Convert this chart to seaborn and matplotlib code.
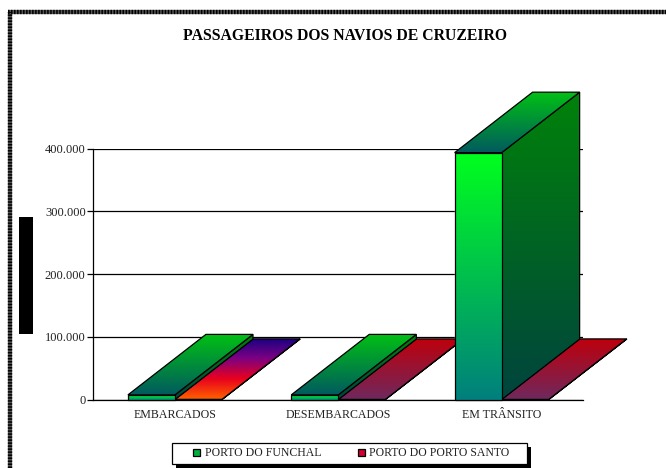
import numpy as np
import pandas as pd
import matplotlib
matplotlib.use("Agg")
import matplotlib.pyplot as plt
from matplotlib.patches import Polygon, Rectangle, Patch
from matplotlib.ticker import FuncFormatter
import seaborn as sns

categories = ["EMBARCADOS", "DESEMBARCADOS", "EM TRÂNSITO"]
funchal = [7500, 7500, 393500]
porto_santo = [400, 300, 300]
series_names = ["PORTO DO FUNCHAL", "PORTO DO PORTO SANTO"]
y_ticks = [0, 100000, 200000, 300000, 400000]

W, H = 666, 468
DEPTH_X, DEPTH_Y = 78, 60.5

# gradient stops, top to bottom
green_front = [(0, 255, 30), (0, 128, 125)]
green_side = [(0, 130, 10), (0, 68, 62)]
green_top = [(0, 192, 20), (0, 90, 95)]
red_top = [(190, 0, 12), (112, 40, 92)]
rainbow_top = [(25, 0, 130), (125, 0, 130), (232, 0, 30), (255, 95, 0)]

df = pd.DataFrame({
    "categoria": categories * 2,
    "porto": [series_names[0]] * 3 + [series_names[1]] * 3,
    "valor": funchal + porto_santo,
})

sns.set_style("white")
plt.rcParams["font.family"] = ["Liberation Serif", "DejaVu Serif"]

fig = plt.figure(figsize=(W / 100, H / 100), dpi=100, facecolor="white")
ax = fig.add_axes([93.3 / W, (H - 399.6) / H, 490 / W, 251 / H])

sns.barplot(
    data=df, x="categoria", y="valor", hue="porto",
    palette=["#00a040", "#c00020"], width=0.576, gap=0,
    legend=False, ax=ax
)

ax.set_ylim(0, 400000)
ax.set_yticks(y_ticks)
ax.yaxis.set_major_formatter(
    FuncFormatter(lambda v, _: f"{int(v):,}".replace(",", "."))
)
ax.set_xlabel("")
ax.set_ylabel("")
ax.grid(axis="y", color="black", lw=0.9)
ax.set_axisbelow(True)
ax.tick_params(axis="y", length=4, width=0.9, color="black", pad=1.5,
               labelsize=9, labelcolor="#222222", left=True)
ax.tick_params(axis="x", length=0, pad=7, labelsize=8.6, labelcolor="#222222")
for side in ["top", "right"]:
    ax.spines[side].set_visible(False)
for side in ["left", "bottom"]:
    ax.spines[side].set_color("black")
    ax.spines[side].set_linewidth(0.9)

# overlay in pixel coordinates for the fake 3D faces
over = fig.add_axes([0, 0, 1, 1], facecolor="none")
over.set_xlim(0, W)
over.set_ylim(H, 0)
over.set_autoscale_on(False)
over.axis("off")

z = [10]


def face(points, stops):
    pts = np.array(points)
    top, bottom = pts[:, 1].min(), pts[:, 1].max()
    left, right = pts[:, 0].min(), pts[:, 0].max()
    stops = np.array(stops) / 255
    pos = np.linspace(0, 1, 128)
    grad = np.stack(
        [np.interp(pos, np.linspace(0, 1, len(stops)), stops[:, i]) for i in range(3)],
        axis=1,
    )[:, None, :]
    z[0] += 1
    im = over.imshow(grad, extent=(left, right, bottom, top), aspect="auto",
                     zorder=z[0], interpolation="bilinear")
    edge = Polygon(points, closed=True, fc="none", ec="black", lw=0.9, zorder=z[0] + 0.5)
    over.add_patch(edge)
    im.set_clip_path(Polygon(points, closed=True, transform=over.transData))


def draw_box(bar, front, side, top_face):
    fig.canvas.draw()
    (x0, y0), (x1, y1) = ax.transData.transform(
        [(bar.get_x(), 0), (bar.get_x() + bar.get_width(), bar.get_height())]
    )
    y0, y1 = H - y0, H - y1
    dx, dy = DEPTH_X, DEPTH_Y
    face([(x1, y1), (x1 + dx, y1 - dy), (x1 + dx, y0 - dy), (x1, y0)], side)
    face([(x0, y1), (x1, y1), (x1 + dx, y1 - dy), (x0 + dx, y1 - dy)], top_face)
    if y0 - y1 >= 1:
        face([(x0, y0), (x1, y0), (x1, y1), (x0, y1)], front)


for i in range(len(categories)):
    top = rainbow_top if i == 0 else red_top
    draw_box(ax.containers[1][i], top, top, top)
    draw_box(ax.containers[0][i], green_front, green_side, green_top)

# dithered frame on the top and left edges
for xs, ys in [([10, 10], [H, 12.3]), ([8, W], [12.3, 12.3])]:
    over.plot(xs, ys, color="#555555", lw=3.1, solid_capstyle="butt", zorder=2)
    over.plot(xs, ys, color="black", lw=3.1, ls=(0, (0.35, 0.35)), zorder=3)

# black block where the axis title was
over.add_patch(Rectangle((19, 217), 14, 117, fc="black", ec="none", zorder=3))

over.text(345, 36.5, "PASSAGEIROS DOS NAVIOS DE CRUZEIRO", ha="center", va="center",
          fontsize=11.3, fontweight="bold", color="black", zorder=50)

# legend box and hard shadow
over.add_patch(Rectangle((176, 447), 355, 21, fc="black", ec="none", zorder=58))
over.add_patch(Rectangle((172, 443), 355, 21, fc="white", ec="black", lw=0.9, zorder=59))

handles = [
    Patch(facecolor="#00b040", edgecolor="black", lw=0.9),
    Patch(facecolor="#d00030", edgecolor="black", lw=0.9),
]
leg = over.legend(
    handles, series_names, loc="center", ncols=2,
    bbox_to_anchor=(351.5 / W, (H - 453.5) / H), bbox_transform=fig.transFigure,
    fontsize=8.5, frameon=False,
    handlelength=0.6, handleheight=0.6, handletextpad=0.4,
    columnspacing=3.05, borderpad=0, borderaxespad=0,
)
leg.set_zorder(60)
for t in leg.get_texts():
    t.set_color("#222222")

fig.savefig("out.png", dpi=100)
